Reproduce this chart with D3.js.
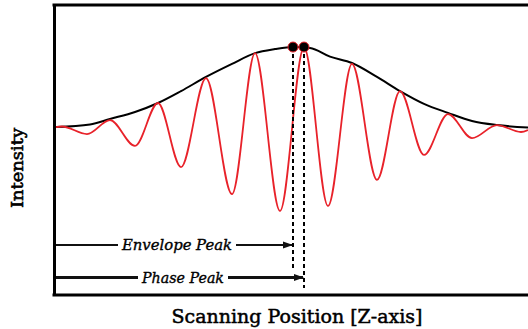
<!DOCTYPE html>
<html>
<head>
<meta charset="utf-8">
<script src="https://cdn.jsdelivr.net/npm/d3@7"></script>
<style>
  body { margin: 0; background: #fff; }
  svg { display: block; }
</style>
</head>
<body>
<div id="chart"></div>
<script>
// scanning position (arbitrary units) and intensity
const fringeZ = [0, 6, 31, 54, 79, 102, 125, 150, 176, 199, 224, 248, 272, 296, 321, 344, 368, 392, 416, 441, 465, 472];
const fringeI = [57.9, 58.1, 55.5, 60.3, 51.4, 66.2, 44.1, 74.8, 34.8, 83.4, 29.0, 85.5, 30.7, 79.7, 39.7, 70.3, 48.3, 62.4, 54.1, 58.6, 56.2, 56.9];

const envZ = [0, 34, 54, 79, 102, 125, 150, 176, 199, 219, 237, 254, 274, 296, 321, 344, 368, 392, 416, 441, 472];
const envI = [57.9, 58.8, 60.7, 63.1, 66.2, 70.3, 75.2, 79.7, 83.4, 84.8, 85.5, 85.2, 82.2, 80.0, 75.2, 70.3, 65.9, 62.8, 60.0, 58.6, 57.8];

// peaks: name, position, intensity at marker, level of the arrow, bottom of dashed line
const peakNames = ["Envelope Peak", "Phase Peak"];
const peakZ = [237, 248];
const peakI = [85.5, 85.5];
const arrowI = [17.2, 6.0];
const dropI = [9.3, 2.4];

const xLabel = "Scanning Position [Z-axis]";
const yLabel = "Intensity";

const width = 528, height = 329;
const svg = d3.select("#chart").append("svg")
    .attr("width", width)
    .attr("height", height);

svg.append("defs").append("marker")
    .attr("id", "arrow")
    .attr("markerUnits", "userSpaceOnUse")
    .attr("markerWidth", 10)
    .attr("markerHeight", 10)
    .attr("viewBox", "-5 -5 10 10")
    .attr("refX", 4)
    .attr("refY", 0)
    .attr("orient", "auto")
    .append("path")
    .attr("d", "M -5,-3.5 L 5,0 L -5,3.5 Z")
    .attr("fill", "#111");

const x = d3.scaleLinear().domain([0, 472]).range([56, 528]);
const y = d3.scaleLinear().domain([0, 100]).range([295, 5]);

// frame
svg.append("g")
    .attr("transform", "translate(54,0)")
    .call(d3.axisLeft(y).tickValues([]).tickSizeOuter(0))
    .select(".domain").attr("stroke", "#000").attr("stroke-width", 3);
svg.append("g")
    .attr("transform", "translate(0,295)")
    .call(d3.axisBottom(x).tickValues([]).tickSizeOuter(0))
    .select(".domain").attr("stroke", "#000").attr("stroke-width", 3)
    .attr("d", "M52.5,0H528");
svg.append("line")
    .attr("x1", 52.5).attr("x2", width)
    .attr("y1", y(100)).attr("y2", y(100))
    .attr("stroke", "#000").attr("stroke-width", 3);

// curves
const line = d3.line()
    .x(d => x(d[0]))
    .y(d => y(d[1]))
    .curve(d3.curveMonotoneX);

svg.append("path")
    .datum(envZ.map((z, i) => [z, envI[i]]))
    .attr("fill", "none")
    .attr("stroke", "#000")
    .attr("stroke-width", 2)
    .attr("d", line);

svg.append("path")
    .datum(fringeZ.map((z, i) => [z, fringeI[i]]))
    .attr("fill", "none")
    .attr("stroke", "#e8222a")
    .attr("stroke-width", 1.8)
    .attr("d", line);

// peak markers, dashed drops, arrows
const labelW = [110, 82];
peakNames.forEach((name, i) => {
    svg.append("line")
        .attr("x1", x(peakZ[i])).attr("x2", x(peakZ[i]))
        .attr("y1", y(peakI[i])).attr("y2", y(dropI[i]))
        .attr("stroke", "#000")
        .attr("stroke-width", 2)
        .attr("stroke-dasharray", "4,3");

    svg.append("line")
        .attr("x1", x(0)).attr("x2", x(peakZ[i]) - 1)
        .attr("y1", y(arrowI[i])).attr("y2", y(arrowI[i]))
        .attr("stroke", "#111")
        .attr("stroke-width", i === 0 ? 2 : 3)
        .attr("marker-end", "url(#arrow)");

    const cx = i === 0 ? 177 : 183;
    svg.append("rect")
        .attr("x", cx - labelW[i] / 2 - 4)
        .attr("y", y(arrowI[i]) - 8)
        .attr("width", labelW[i] + 8)
        .attr("height", 16)
        .attr("fill", "#fff");

    svg.append("text")
        .attr("x", cx)
        .attr("y", y(arrowI[i]) + 5)
        .attr("text-anchor", "middle")
        .attr("textLength", labelW[i])
        .attr("lengthAdjust", "spacingAndGlyphs")
        .attr("stroke", "#000")
        .attr("stroke-width", 0.35)
        .style("font-family", "DejaVu Serif")
        .style("font-style", "italic")
        .style("font-size", "14px")
        .text(name);
});

svg.selectAll("circle.peak")
    .data(peakZ)
    .join("circle")
    .attr("class", "peak")
    .attr("cx", d => x(d))
    .attr("cy", (d, i) => y(peakI[i]))
    .attr("r", 5)
    .attr("fill", "#000")
    .attr("stroke", "#e8222a")
    .attr("stroke-width", 1);

// axis titles
svg.append("text")
    .attr("x", 297)
    .attr("y", 323)
    .attr("text-anchor", "middle")
    .attr("textLength", 251)
    .attr("lengthAdjust", "spacingAndGlyphs")
    .attr("stroke", "#000")
    .attr("stroke-width", 0.5)
    .style("font-family", "DejaVu Serif")
    .style("font-size", "19px")
    .text(xLabel);

svg.append("text")
    .attr("transform", "translate(23,168) rotate(-90)")
    .attr("text-anchor", "middle")
    .attr("textLength", 80)
    .attr("lengthAdjust", "spacingAndGlyphs")
    .attr("stroke", "#000")
    .attr("stroke-width", 0.6)
    .style("font-family", "DejaVu Serif")
    .style("font-size", "16px")
    .text(yLabel);
</script>
</body>
</html>
